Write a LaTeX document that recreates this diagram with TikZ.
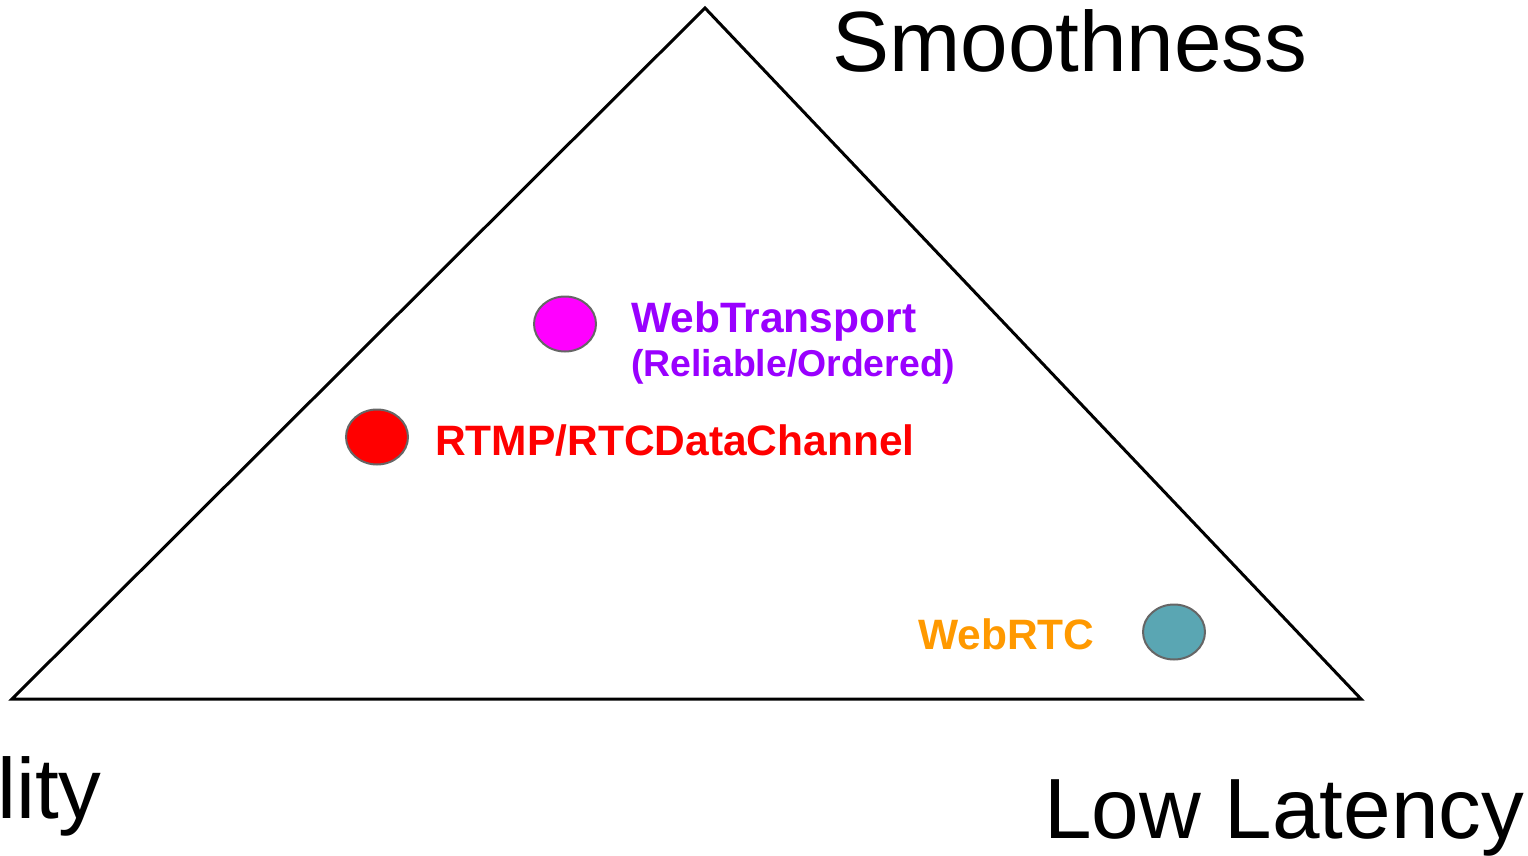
\documentclass[tikz,border=0pt]{standalone}
\usepackage{fontspec}
\setmainfont{Liberation Sans}
\definecolor{wtpurple}{HTML}{9900FF}
\definecolor{rtmpred}{HTML}{FF0000}
\definecolor{rtcorange}{HTML}{FF9900}
\definecolor{dotmagenta}{HTML}{FF00FF}
\definecolor{dotteal}{HTML}{5AA6B3}
\definecolor{dotedge}{HTML}{666666}
\tikzset{
  corner/.style={font=\fontsize{85.5}{100}\selectfont, anchor=base west, inner sep=0pt},
  tag/.style={font=\fontsize{42.5}{50}\selectfont\bfseries, anchor=base west, inner sep=0pt},
  dot/.style={draw=dotedge, line width=2pt, ellipse, minimum width=62pt, minimum height=55pt, inner sep=0pt},
}
\usetikzlibrary{shapes.geometric}
\begin{document}
\begin{tikzpicture}[x=1pt,y=-1pt]
  \useasboundingbox (0,0) rectangle (1528,856);
  % the triangle
  \coordinate (apex) at (705,8);
  \coordinate (left) at (12,699);
  \coordinate (right) at (1361,699);
  \draw[line width=3pt, line join=miter] (apex) -- (right) -- (left) -- cycle;

  % corner labels
  \node[corner] (smooth) at (832,72) {Smoothness};
  \node[corner] (lowlat) at (1044,838) {Low Latency};
  \node[corner] (qual) at (-3,818) {lity};

  % protocol markers
  \node[dot, fill=dotmagenta] (wtdot) at (565,324) {};
  \node[dot, fill=rtmpred] (rtmpdot) at (377,437) {};
  \node[dot, fill=dotteal] (rtcdot) at (1174,632) {};

  % protocol labels
  \node[tag, text=wtpurple] (wt) at (631,332) {WebTransport};
  \node[tag, text=wtpurple, font=\fontsize{37.4}{44}\selectfont\bfseries] (wtsub) at (631,376) {(Reliable/Ordered)};
  \node[tag, text=rtmpred] (rtmp) at (435,455) {RTMP/RTCDataChannel};
  \node[tag, text=rtcorange] (rtc) at (918,649) {WebRTC};
\end{tikzpicture}
\end{document}
